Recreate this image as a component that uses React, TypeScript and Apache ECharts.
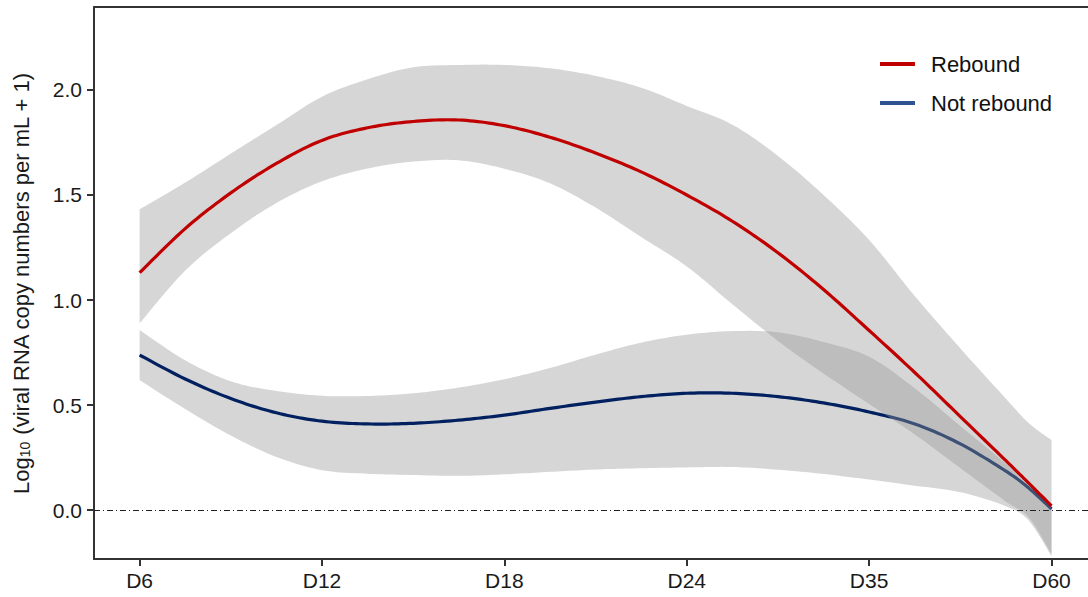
import React, { useEffect, useRef } from "react";
import * as echarts from "echarts";

// x positions (1 = D6 ... 6 = D60, evenly spaced categories)
const xPos = [1, 1.25, 1.5, 1.75, 2, 2.25, 2.5, 2.75, 3, 3.25, 3.5, 3.75, 4, 4.25, 4.5, 4.75, 5, 5.25, 5.5, 5.75, 5.875, 6];
const xTickPos = [1, 2, 3, 4, 5, 6];
const xTickLabels = ["D6", "D12", "D18", "D24", "D35", "D60"];
const yTicks = [0, 0.5, 1, 1.5, 2];

// Rebound group: smoothed fit and confidence band
const reboundFit = [1.13, 1.34, 1.51, 1.65, 1.76, 1.82, 1.85, 1.857, 1.83, 1.775, 1.7, 1.61, 1.5, 1.375, 1.225, 1.05, 0.855, 0.655, 0.445, 0.235, 0.128, 0.02];
const reboundUpper = [1.432, 1.559, 1.697, 1.833, 1.968, 2.051, 2.108, 2.119, 2.119, 2.103, 2.067, 2.011, 1.924, 1.835, 1.686, 1.5, 1.286, 1.019, 0.77, 0.53, 0.414, 0.333];
const reboundLower = [0.889, 1.14, 1.318, 1.462, 1.565, 1.626, 1.659, 1.665, 1.625, 1.556, 1.44, 1.3, 1.16, 0.98, 0.805, 0.65, 0.505, 0.36, 0.2, 0.04, -0.035, -0.21];

// Not rebound group
const notFit = [0.738, 0.624, 0.531, 0.463, 0.423, 0.41, 0.413, 0.428, 0.452, 0.484, 0.514, 0.54, 0.556, 0.556, 0.54, 0.51, 0.467, 0.41, 0.315, 0.185, 0.105, 0.005];
const notUpper = [0.857, 0.713, 0.613, 0.567, 0.544, 0.543, 0.556, 0.583, 0.623, 0.676, 0.74, 0.797, 0.835, 0.852, 0.846, 0.8, 0.73, 0.58, 0.4, 0.22, 0.11, 0.02];
const notLower = [0.619, 0.481, 0.355, 0.253, 0.19, 0.173, 0.167, 0.163, 0.17, 0.182, 0.193, 0.199, 0.203, 0.205, 0.192, 0.172, 0.145, 0.116, 0.085, 0.018, -0.05, -0.22];

const FONT = "'Liberation Sans', Arial, sans-serif";
const AXIS_COLOR = "#333333";
const RED = "#C00000";
const NAVY = "#002060";

// Catmull-Rom rendering of pixel points (drawing only)
function smoothPts(pts: number[][]): number[][] {
  const out: number[][] = [];
  const n = pts.length;
  for (let i = 0; i < n - 1; i++) {
    const p0 = pts[Math.max(0, i - 1)];
    const p1 = pts[i];
    const p2 = pts[i + 1];
    const p3 = pts[Math.min(n - 1, i + 2)];
    const c1 = [p1[0] + (p2[0] - p0[0]) / 6, p1[1] + (p2[1] - p0[1]) / 6];
    const c2 = [p2[0] - (p3[0] - p1[0]) / 6, p2[1] - (p3[1] - p1[1]) / 6];
    const steps = 12;
    for (let s = 0; s < steps; s++) {
      const t = s / steps;
      const mt = 1 - t;
      out.push([
        mt * mt * mt * p1[0] + 3 * mt * mt * t * c1[0] + 3 * mt * t * t * c2[0] + t * t * t * p2[0],
        mt * mt * mt * p1[1] + 3 * mt * mt * t * c1[1] + 3 * mt * t * t * c2[1] + t * t * t * p2[1],
      ]);
    }
  }
  out.push(pts[n - 1]);
  return out;
}

function ribbon(name: string, up: number[], lo: number[]) {
  return {
    name,
    type: "custom",
    silent: true,
    clip: true,
    data: [[xPos[0], lo[0]]],
    encode: { x: 0, y: 1 },
    renderItem: (_params: any, api: any) => {
      const upPx = smoothPts(xPos.map((x, i) => api.coord([x, up[i]])));
      const loPx = smoothPts(xPos.map((x, i) => api.coord([x, lo[i]])));
      const points = upPx.concat(loPx.reverse());
      return {
        type: "polygon",
        shape: { points },
        style: { fill: "#999999", opacity: 0.4 },
      };
    },
  };
}

function fitLine(name: string, vals: number[], color: string, extra: any = {}) {
  return {
    name,
    type: "custom",
    clip: true,
    data: [[xPos[0], vals[0]]],
    encode: { x: 0, y: 1 },
    itemStyle: { color },
    renderItem: (_params: any, api: any) => {
      const pts = smoothPts(xPos.map((x, i) => api.coord([x, vals[i]])));
      return {
        type: "polyline",
        shape: { points: pts },
        style: { stroke: color, lineWidth: 3.2, fill: null, lineCap: "butt", lineJoin: "round" },
      };
    },
    ...extra,
  };
}

export default function App() {
  const ref = useRef<HTMLDivElement>(null);
  useEffect(() => {
    if (!ref.current) return;
    const chart = echarts.init(ref.current, null, { renderer: "svg" });
    const option: any = {
      animation: false,
      backgroundColor: "#ffffff",
      textStyle: { fontFamily: FONT },
      grid: { left: 94, right: 0, top: 7, bottom: 38, containLabel: false },
      legend: {
        orient: "vertical",
        left: 875,
        top: 48,
        icon: "rect",
        itemWidth: 35,
        itemHeight: 4,
        itemGap: 17,
        textStyle: { fontSize: 22, color: "#111111", fontFamily: FONT, padding: [0, 0, 0, 11] },
        data: [
          { name: "Rebound", itemStyle: { color: RED } },
          { name: "Not rebound", itemStyle: { color: "#2F5290" } },
        ],
      },
      xAxis: [
        {
          type: "value",
          min: 0.75,
          max: 6.2,
          axisLine: { show: true, onZero: false, lineStyle: { color: AXIS_COLOR, width: 2 } },
          axisTick: { show: true, customValues: xTickPos, length: 7, lineStyle: { color: AXIS_COLOR, width: 2 } },
          axisLabel: {
            customValues: xTickPos,
            formatter: (v: number) => xTickLabels[Math.round(v) - 1] ?? "",
            fontSize: 21,
            color: "#1a1a1a",
            margin: 11,
            fontFamily: FONT,
          },
          splitLine: { show: false },
        },
        {
          type: "value",
          position: "top",
          min: 0.75,
          max: 6.2,
          axisLine: { show: true, onZero: false, lineStyle: { color: AXIS_COLOR, width: 2 } },
          axisTick: { show: false },
          axisLabel: { show: false },
          splitLine: { show: false },
        },
      ],
      yAxis: {
        type: "value",
        min: -0.233,
        max: 2.395,
        name: "{a|Log}{s|10}{a| (viral RNA copy numbers per mL + 1)}",
        nameLocation: "middle",
        nameRotate: 90,
        nameGap: 62,
        nameTextStyle: {
          rich: {
            a: { fontSize: 22, color: "#1a1a1a", fontFamily: FONT, lineHeight: 26, verticalAlign: "bottom" },
            s: { fontSize: 14, color: "#1a1a1a", fontFamily: FONT, lineHeight: 26, verticalAlign: "bottom", padding: [7, 0, 0, 0] },
          },
        },
        axisLine: { show: true, onZero: false, lineStyle: { color: AXIS_COLOR, width: 2 } },
        axisTick: { show: true, customValues: yTicks, length: 7, lineStyle: { color: AXIS_COLOR, width: 2 } },
        axisLabel: {
          customValues: yTicks,
          formatter: (v: number) => v.toFixed(1),
          fontSize: 21,
          color: "#1a1a1a",
          margin: 12,
          fontFamily: FONT,
        },
        splitLine: { show: false },
      },
      series: [
        ribbon("nrBand", notUpper, notLower),
        fitLine("Not rebound", notFit, NAVY),
        ribbon("rbBand", reboundUpper, reboundLower),
        fitLine("Rebound", reboundFit, RED),
        {
          name: "zeroLine",
          type: "line",
          data: [],
          silent: true,
          markLine: {
            silent: true,
            symbol: ["none", "none"],
            label: { show: false },
            lineStyle: { color: "#222222", width: 1, type: [6, 3, 1, 3] },
            data: [{ yAxis: 0 }],
          },
        },
      ],
    };
    chart.setOption(option);
    return () => chart.dispose();
  }, []);
  return <div ref={ref} style={{ width: 1088, height: 597, position: "absolute", left: 0, top: 0 }} />;
}
